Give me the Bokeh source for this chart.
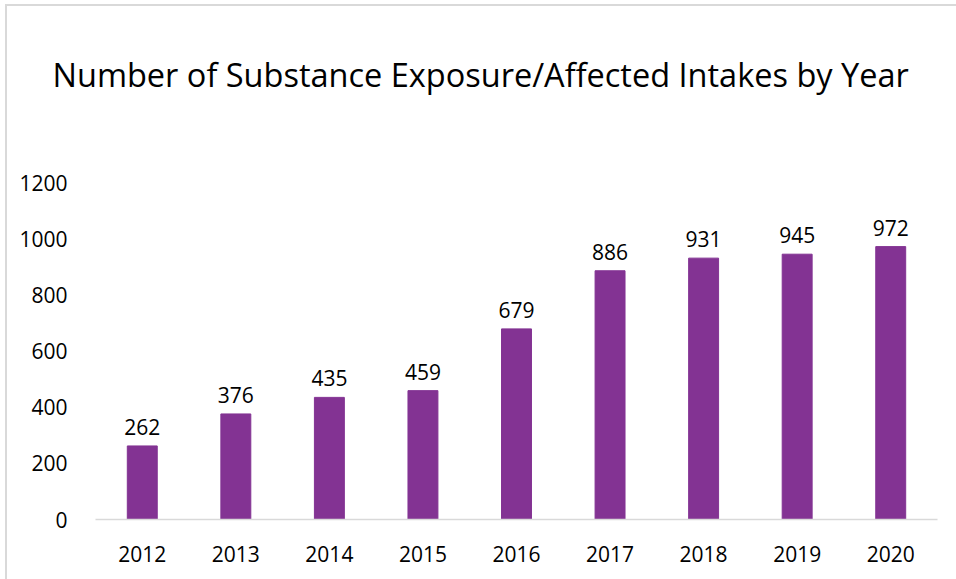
from bokeh.plotting import figure
from bokeh.models import ColumnDataSource, LabelSet, FixedTicker, Range1d
from bokeh.core.properties import value
from bokeh.embed import file_html
from bokeh.resources import INLINE

years = ["2012", "2013", "2014", "2015", "2016", "2017", "2018", "2019", "2020"]
counts = [262, 376, 435, 459, 679, 886, 931, 945, 972]
y_ticks = [0, 200, 400, 600, 800, 1000, 1200]
title_text = "Number of Substance Exposure/Affected Intakes by Year"

FONT = "Open Sans"
BAR = "#833393"

src = ColumnDataSource(dict(year=years, count=counts, label=[str(c) for c in counts]))

p = figure(x_range=years, y_range=Range1d(0, 1350), width=949, height=573,
           output_backend="svg", toolbar_location=None,
           min_border_left=88, min_border_right=19, min_border_top=134, min_border_bottom=60)
p.margin = (6, 0, 0, 7)
p.styles = {"outline": "2px solid #d9d9d9"}

p.title.text = title_text
p.title.text_font = FONT
p.title.text_font_size = "32.5px"
p.title.text_font_style = "normal"
p.title.text_color = "#000000"
p.title.align = "left"
p.title.offset = -43
p.title.vertical_align = "top"
p.title.standoff = 84

p.vbar(x="year", top="count", width=0.32, color=BAR, source=src)
p.add_layout(LabelSet(x="year", y="count", text="label", source=src,
                      text_align="center", text_baseline="bottom", y_offset=11,
                      text_font=value(FONT), text_font_size="21px", text_color="#000000"))

p.xgrid.visible = False
p.ygrid.visible = False
p.outline_line_color = None

p.yaxis.ticker = FixedTicker(ticks=y_ticks)
p.yaxis.axis_line_color = None
p.yaxis.major_tick_line_color = None
p.yaxis.minor_tick_line_color = None
p.yaxis.major_label_standoff = 22
p.yaxis.major_label_text_font = FONT
p.yaxis.major_label_text_font_size = "21px"
p.yaxis.major_label_text_color = "#000000"

p.xaxis.axis_line_color = "#d9d9d9"
p.xaxis.axis_line_width = 1.5
p.xaxis.major_tick_line_color = None
p.xaxis.minor_tick_line_color = None
p.xaxis.major_label_standoff = 20
p.xaxis.major_label_text_font = FONT
p.xaxis.major_label_text_font_size = "21px"
p.xaxis.major_label_text_color = "#000000"
p.x_range.range_padding = 0

open("out.html", "w").write(file_html(p, INLINE))
